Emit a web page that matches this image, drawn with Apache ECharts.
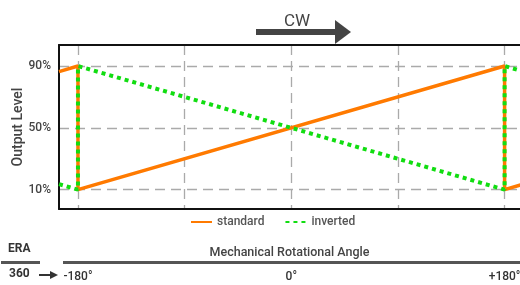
<!DOCTYPE html>
<html>
<head>
<meta charset="utf-8">
<script src="https://cdn.jsdelivr.net/npm/echarts@6/dist/echarts.min.js"></script>
<style>
	html, body { margin: 0; padding: 0; background: #fff; }
	#chart { width: 520px; height: 285px; }
</style>
</head>
<body>
<div id="chart"></div>
<script>
// angle ticks (deg) and the levels (%) that get grid lines
var angleTicks = [-180, -90, 0, 90, 180];
var angleLabelTicks = [-180, 0, 180];
var angleLabels = { '-180': '-180°', '0': '0°', '180': '+180°' };
var levelTicks = [10, 50, 90];

// [angle, output level]
var standardData = [[-196, 86.4], [-180, 90], [-180, 10], [180, 90], [180, 10], [196, 13.6]];
var invertedData = [[-196, 13.6], [-180, 10], [-180, 90], [180, 10], [180, 90], [196, 86.4]];

var font = 'Roboto';
var gridLine = { show: true, lineStyle: { color: '#aaa', width: 1.3, type: [10, 6] } };

var chart = echarts.init( document.getElementById( 'chart' ), null, { renderer: 'canvas' } );

chart.setOption( {
	animation: false,
	textStyle: { fontFamily: font },
	grid: { left: 59, top: 45, right: 0, bottom: 76, containLabel: false, outerBoundsMode: 'none' },
	legend: {
		left: 190, top: 216, padding: 0,
		itemWidth: 21, itemHeight: 12, itemGap: 20,
		itemStyle: { opacity: 0 },
		textStyle: { color: '#555', fontSize: 12, fontWeight: 500, fontFamily: font },
		data: ['standard', 'inverted']
	},
	xAxis: [
		{
			type: 'value', min: -196, max: 193,
			axisLine: { show: true, onZero: false, lineStyle: { color: '#111', width: 2 } },
			axisTick: { show: false, customValues: angleTicks },
			splitLine: gridLine,
			axisLabel: {
				customValues: angleLabelTicks,
				margin: 62, color: '#333', fontSize: 12, fontWeight: 500, fontFamily: font,
				formatter: function(v){ return angleLabels[v]; }
			},
			name: 'Mechanical Rotational Angle',
			nameLocation: 'middle', nameGap: 37, nameMoveOverlap: false,
			nameTextStyle: { color: '#444', fontSize: 12.5, fontWeight: 500, fontFamily: font }
		},
		{
			type: 'value', min: -196, max: 193, position: 'top',
			axisLine: { show: true, onZero: false, lineStyle: { color: '#111', width: 2 } },
			axisTick: { show: false }, axisLabel: { show: false }, splitLine: { show: false }
		}
	],
	yAxis: {
		type: 'value', min: -2.5, max: 103.6,
		axisLine: { show: true, onZero: false, lineStyle: { color: '#111', width: 2 } },
		axisTick: { show: false, customValues: levelTicks },
		splitLine: gridLine,
		axisLabel: {
			customValues: levelTicks,
			margin: 8, color: '#444', fontSize: 12, fontWeight: 500, fontFamily: font,
			formatter: '{value}%'
		},
		name: 'Output Level',
		nameLocation: 'middle', nameGap: 34, nameRotate: 90, nameMoveOverlap: false,
		nameTextStyle: { color: '#444', fontSize: 14, fontWeight: 500, fontFamily: font }
	},
	series: [
		{
			name: 'standard', type: 'line', data: standardData,
			symbol: 'none', clip: true,
			itemStyle: { color: '#ff7a00' },
			lineStyle: { color: '#ff7a00', width: 3.5 }
		},
		{
			name: 'inverted', type: 'line', data: invertedData,
			symbol: 'none', clip: true,
			itemStyle: { color: '#11dd11' },
			lineStyle: { color: '#11dd11', width: 4, type: [4, 4] }
		}
	],
	graphic: [
		// CW arrow
		{ type: 'text', left: 284, top: 13, style: { text: 'CW', fill: '#444', fontSize: 17, fontFamily: font } },
		{ type: 'rect', shape: { x: 256, y: 29, width: 82, height: 6 }, style: { fill: '#444' } },
		{ type: 'polygon', shape: { points: [[335, 20], [351, 32], [335, 44]] }, style: { fill: '#444' } },
		// ERA table
		{ type: 'text', left: 8, top: 243, style: { text: 'ERA', fill: '#333', fontSize: 12, fontWeight: 'bold', fontFamily: font } },
		{ type: 'rect', shape: { x: 1, y: 261, width: 39, height: 3 }, style: { fill: '#555' } },
		{ type: 'rect', shape: { x: 63, y: 261, width: 457, height: 3 }, style: { fill: '#555' } },
		{ type: 'text', left: 9, top: 268, style: { text: '360', fill: '#333', fontSize: 12, fontWeight: 'bold', fontFamily: font } },
		{ type: 'rect', shape: { x: 39, y: 274, width: 12, height: 2 }, style: { fill: '#333' } },
		{ type: 'polygon', shape: { points: [[50, 271], [58, 275], [50, 279]] }, style: { fill: '#333' } }
	]
} );
</script>
</body>
</html>
